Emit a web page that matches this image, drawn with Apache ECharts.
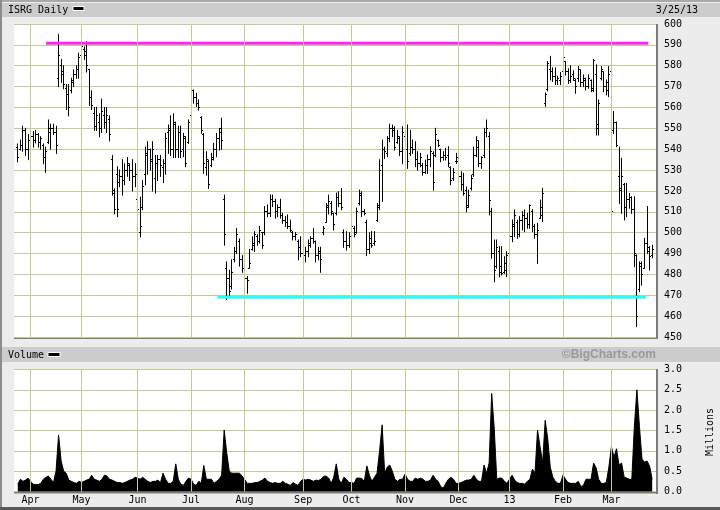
<!DOCTYPE html>
<html><head><meta charset="utf-8">
<script src="https://cdn.jsdelivr.net/npm/echarts@6/dist/echarts.min.js"></script>
<style>html,body{margin:0;padding:0;background:#ececec;}#c{width:720px;height:510px;}</style>
</head><body><div id="c"></div>
<script>
// ISRG daily, 250 trading days (Mar 26 2012 .. Mar 25 2013)
const openP = [
541,540,542,549,540,544,546,544,547,543,
542,536,543,548,550,548,574,580,576,569,
566,568,572,576,578,585,588,587,578,565,
557,551,553,550,556,553,554,535,520,528,
524,527,525,530,532,530,527,516,500,512,
528,537,540,535,526,533,535,531,533,548,
549,540,552,540,548,540,545,543,556,568,
565,562,555,547,531,534,532,536,540,545,
550,516,483,478,474,487,491,496,487,483,
478,483,492,495,498,496,500,500,510,509,
516,515,510,512,508,506,505,503,500,498,
496,493,490,489,491,494,497,496,489,490,
500,505,512,514,509,509,517,514,500,496,
494,498,502,500,514,518,510,505,492,495,
495,506,513,532,540,538,545,550,549,543,
545,539,546,540,538,541,540,535,533,532,
529,532,535,538,537,544,540,536,537,537,
531,526,534,534,527,523,520,513,521,528,
537,541,533,537,548,546,510,490,484,491,
484,481,482,490,498,503,505,499,506,508,
507,504,510,503,499,507,508,562,568.4,578,
577,575,573,573,577,582,577,573,576,573,
574,578,572,573,570,573,568,576,550,574,
577,570,572,577,549,553,527,521,523,512,
516,517,511,489,473,484,483,495,491,489];
const highP = [
542.5,544.4,551,550,547,548,548.5,549,547.5,546,
542.5,541,554,552,552,551,595,583,580,571,
571,574,578,580,586,590.7,589,591.5,578,568,
560,560,557,564,560,560,556,537,521,531.6,
530,535,533,536,533,535,533,517,517,525,
541,543.6,540,543.6,537,537,537,535,547.6,551.6,
556,557,553,551,551,547.6,546,554,570,568.4,
566.8,563.6,555.6,547.6,538.8,534.8,538,542.8,547.6,550,
554.8,518,486,482,487,493,502,497,489,484,
479,492,498,500.5,499,503,500,512.5,513.3,518,
518,516,513.3,516,509.3,507.7,508.5,506,500.5,500,
496.5,498,493,493,496.5,498,502,496,493,493,
503,514,518,515,509.3,519,519.6,521.2,501.3,500.5,
500,506,503,511.7,520.4,519.6,511,506,500,500.5,
500.5,514,535,544.4,541,546,552,551.6,550.8,549,
546,550.8,546,551.6,549,544.4,543.6,538.8,538,533.2,
534.8,537.2,541.2,538.8,550,544.4,540,538.8,540.4,541.2,
531.6,530.8,538,534,529.2,528.4,521.9,520.4,527.5,541,
546,544,536.4,550,554,548,511.7,496.5,496.5,493.3,
493.3,488.5,490.9,507.7,506.1,510.9,506,507.7,510.1,510.9,
509.3,513.3,511,504,504.5,515.6,521.2,567,582,584.5,
579,579,575,576.8,586,582,578.5,580,577.6,573.6,
579.6,578,575.6,574,575.6,573.2,583,580.4,563.6,579.6,
577,573.2,579.6,578,558,553,541,535.6,523.6,523.6,
518.8,517.2,517.2,489.3,486,486,497.3,512.5,493.3,494];
const lowP = [
534,539.6,539,537,535,538,541,543,541,540,
533,529,542.8,540,547,538,570,572,569,559,
556,567,570,574,574,576,583,577,561,559,
549,549,546,548,550,548,544,518,509,507.7,
522,518,523,527,525,520,522,498,498,511,
523,528,530,520,519,525,527,524,528,538,
537,536,536,536,536,536.4,531.6,542.8,555.6,562,
560.4,558.8,547.6,528.4,527.6,521.2,531.6,534.8,536.4,539.6,
540,494,468,470,473,486,490,484,481,476.5,
471,483,491.7,491,494,495,492.5,499,507.7,507.7,
512.5,507,507.7,507,504.5,503,502,500.5,496.5,496.5,
487,488.5,487,486,488.5,493,495,486,487,481,
499,505,509,508.5,501.3,508.5,512.5,511,493,491.7,
493,496.5,498,499.7,513.3,507.7,508.5,489,490,493,
494,505.3,511,515,535.6,536.4,543.6,546,539.6,542.8,
537,533,536.4,530.8,537,538,531.6,530,531.6,527.6,
528.4,528.4,531.6,520.4,536.4,541.2,534,534.8,534.8,531.6,
523,525,533.2,525.3,520.4,518,510,512,520.4,527,
536.4,531.6,530.8,536,546,508.5,487.7,476.5,483,478.9,
479.7,480.5,478.9,490,495.7,498.1,497.3,498,501.3,500.5,
502.1,502.1,500.5,497.3,485.3,506.9,505.3,560.5,568,573.2,
572.5,571,571,571,576,575.5,571.5,572,573,566.8,
572.4,570,570,568.4,569.2,567.6,567.6,546.8,546.8,573.2,
567.6,566,565.2,492.5,547.6,541.2,514,509.3,506.1,507.7,
511.7,509.3,483.7,455,471.7,474.9,483,490.1,482.1,488];
const closeP = [
536,542,549,540,544,546,544,547,543,545,
536,539,550,550,548,542,585,577,571,566,
560,573,576,578,584,589,585,580,565,561,
551,556,550,558,553,556,547,519,511,511,
527,525,530,533,530,527,528,511,503,522,
538,540,534,540,533,535,532,533,545,550,
540,553,540,548,539,546,533,553,568,565,
562,560,549,533,535,523,535,540,545,548,
544,499,478,472,481,491,499,487,483,478,
477,485,494,499,496,501,494,510,509,516,
515,510,512,508,506,505,503,501,498,499,
493,490,489,491,495,497,496,489,491,487,
502,513,515,510,504,517,514,512,496,494,
498,503,499,510,519,510,509,492,497,494,
496,512,530,540,538.8,545,550,550,541,546,
539,548,540,534,541,540,535,533,536,529,
532,535,539,524,547,541.6,536,537,536,533,
525,529,536,527,523,519,512,518,526,537,
544,533,536,548,550,515.6,490,482,493,481,
480.5,485.3,489,498,504,508,499,506,508,507,
504,512.8,503,499,501,512,518.8,566,581,577,
575,573,574,575,584,577,573,575,574,570,
578,572,574,570,574,569,582.7,552,562,578,
570,568,576,510,553,542,520,527,512,516,
517,511,490,460,485.3,480,495,493,488.5,492];
// volume, millions of shares
const volume = [
0.18,0.3,0.25,0.28,0.33,0.25,0.18,0.17,0.17,0.2,
0.3,0.35,0.38,0.3,0.22,0.5,1.39,0.75,0.5,0.45,
0.28,0.25,0.22,0.2,0.25,0.22,0.25,0.28,0.3,0.4,
0.3,0.28,0.25,0.3,0.4,0.38,0.3,0.28,0.25,0.22,
0.22,0.2,0.22,0.25,0.28,0.3,0.35,0.33,0.3,0.35,
0.3,0.25,0.22,0.25,0.25,0.28,0.22,0.45,0.3,0.2,
0.2,0.25,0.68,0.3,0.18,0.15,0.25,0.33,0.3,0.18,
0.15,0.25,0.2,0.64,0.3,0.3,0.3,0.2,0.25,0.3,
0.4,1.51,0.95,0.5,0.45,0.45,0.45,0.45,0.38,0.3,
0.2,0.2,0.2,0.22,0.22,0.25,0.28,0.33,0.25,0.22,
0.2,0.22,0.2,0.2,0.25,0.2,0.18,0.15,0.22,0.18,
0.15,0.25,0.3,0.28,0.3,0.28,0.25,0.28,0.27,0.3,
0.37,0.38,0.33,0.2,0.35,0.68,0.3,0.2,0.35,0.3,
0.22,0.22,0.2,0.33,0.33,0.32,0.25,0.63,0.4,0.25,
0.35,0.45,1.0,1.64,0.45,0.6,0.65,0.5,0.3,0.25,
0.3,0.3,0.43,0.3,0.25,0.25,0.33,0.3,0.33,0.3,
0.25,0.25,0.28,0.4,0.3,0.25,0.12,0.08,0.2,0.3,
0.35,0.3,0.2,0.2,0.22,0.25,0.28,0.28,0.3,0.4,
0.3,0.25,0.25,0.65,0.45,0.7,2.41,1.55,0.3,0.33,
0.33,0.25,0.2,0.3,0.4,0.28,0.22,0.2,0.2,0.18,
0.25,0.3,0.55,0.45,1.51,1.1,0.7,1.75,1.3,0.6,
0.35,0.25,0.2,0.2,0.4,0.3,0.22,0.2,0.2,0.2,
0.25,0.12,0.15,0.3,0.3,0.3,0.7,0.58,0.3,0.2,
0.2,0.22,0.6,1.1,0.85,1.05,0.65,0.7,0.35,0.33,
0.3,0.3,1.6,2.5,1.6,0.8,0.72,0.75,0.62,0.3];
// first trading day of each month (index into the arrays above) and its label
const monthStart = [5,25,47,68,89,112,131,152,173,193,214,233];
const monthLabel = ['Apr','May','Jun','Jul','Aug','Sep','Oct','Nov','Dec','13','Feb','Mar'];
// trend lines [startIndex, endIndex, level]
const resistance = [11.1, 247.5, 590.75];
const support = [78.3, 246.6, 469.1];

const N = openP.length;              // 250 bars
const SLOTS = N + 2;                 // one empty slot each side
const cats = [''];
for (let i = 0; i < N; i++) cats.push(String(i));
cats.push('');
const labelMap = {};
monthStart.forEach((m, j) => { labelMap[m + 1] = monthLabel[j]; });

const GRID = '#c8c890';
const MONO = '"DejaVu Sans Mono", "Liberation Mono", monospace';

const ohlc = openP.map((o, i) => [i + 1, o, highP[i], lowP[i], closeP[i]]);
const vol = volume.map((v, i) => [i + 1, v]);
const monthLines = monthStart.map(m => ({ xAxis: m + 1 }));

function markLines() {
  return { silent: true, symbol: ['none', 'none'], animation: false,
    label: { show: false }, emphasis: { disabled: true },
    lineStyle: { color: GRID, width: 1, type: 'solid' }, data: monthLines };
}

const chart = echarts.init(document.getElementById('c'), null, { renderer: 'canvas', width: 720, height: 510 });
chart.setOption({
  animation: false,
  backgroundColor: '#ececec',
  grid: [
    { left: 14, top: 24, width: 642, height: 313, show: true, backgroundColor: '#ffffff', borderWidth: 0 },
    { left: 14, top: 369.5, width: 642, height: 122, show: true, backgroundColor: '#ffffff', borderWidth: 0 }
  ],
  xAxis: [
    { type: 'value', gridIndex: 0, min: -0.5, max: SLOTS - 0.5, show: false },
    { type: 'value', gridIndex: 1, min: -0.5, max: SLOTS - 0.5, show: false },
    { type: 'category', gridIndex: 1, data: cats, boundaryGap: true, position: 'bottom',
      axisLine: { show: false }, axisTick: { show: false }, splitLine: { show: false },
      axisLabel: { interval: (idx) => labelMap[idx] !== undefined, formatter: (v, idx) => labelMap[idx] || '',
        color: '#000', fontFamily: MONO, fontSize: 10, margin: 3, lineHeight: 12, hideOverlap: false } }
  ],
  yAxis: [
    { type: 'value', gridIndex: 0, position: 'right', min: 450, max: 600, interval: 10,
      axisLine: { show: false }, axisTick: { show: false },
      splitLine: { lineStyle: { color: GRID, width: 1 } },
      axisLabel: { color: '#000', fontFamily: MONO, fontSize: 10, margin: 8 } },
    { type: 'value', gridIndex: 1, position: 'right', min: 0, max: 3, interval: 0.5,
      axisLine: { show: false }, axisTick: { show: false },
      splitLine: { lineStyle: { color: GRID, width: 1 } },
      axisLabel: { color: '#000', fontFamily: MONO, fontSize: 10, margin: 8, formatter: v => v.toFixed(1) } }
  ],
  series: [
    { type: 'line', xAxisIndex: 0, yAxisIndex: 0, data: [], z: 1, silent: true, markLine: markLines() },
    { type: 'line', xAxisIndex: 1, yAxisIndex: 1, data: [], z: 1, silent: true, markLine: markLines() },
    { type: 'custom', xAxisIndex: 0, yAxisIndex: 0, data: ohlc, z: 2, silent: true,
      encode: { x: 0, y: [1, 2, 3, 4] },
      renderItem: function (params, api) {
        const k = api.value(0);
        const pO = api.coord([k, api.value(1)]);
        const pH = api.coord([k, api.value(2)]);
        const pL = api.coord([k, api.value(3)]);
        const pC = api.coord([k, api.value(4)]);
        const x = Math.floor(pH[0]) + 0.5;
        const yo = Math.floor(pO[1]) + 0.5, yc = Math.floor(pC[1]) + 0.5;
        const st = { stroke: '#000', lineWidth: 1 };
        return { type: 'group', children: [
          { type: 'line', shape: { x1: x, y1: pH[1] - 0.5, x2: x, y2: pL[1] + 0.5 }, style: st },
          { type: 'line', shape: { x1: x - 1.5, y1: yo, x2: x, y2: yo }, style: st },
          { type: 'line', shape: { x1: x, y1: yc, x2: x + 1.5, y2: yc }, style: st }
        ] };
      } },
    { type: 'line', xAxisIndex: 0, yAxisIndex: 0, z: 3, silent: true, symbol: 'none',
      data: [[resistance[0] + 1, resistance[2]], [resistance[1] + 1, resistance[2]]],
      lineStyle: { color: '#ff22ff', width: 3 } },
    { type: 'line', xAxisIndex: 0, yAxisIndex: 0, z: 3, silent: true, symbol: 'none',
      data: [[support[0] + 1, support[2]], [support[1] + 1, support[2]]],
      lineStyle: { color: '#22ffff', width: 3 } },
    { type: 'line', xAxisIndex: 1, yAxisIndex: 1, z: 2, silent: true, symbol: 'none', data: vol,
      lineStyle: { color: '#000', width: 1 }, areaStyle: { color: '#000', opacity: 1 } }
  ],
  graphic: [
    { type: 'rect', shape: { x: 0, y: 0, width: 720, height: 2 }, style: { fill: '#a8a8a8' }, silent: true },
    { type: 'rect', shape: { x: 0, y: 0, width: 2, height: 510 }, style: { fill: '#8c8c8c' }, silent: true },
    { type: 'rect', shape: { x: 0, y: 507, width: 720, height: 3 }, style: { fill: '#5a5a5a' }, silent: true },
    { type: 'rect', shape: { x: 2, y: 3, width: 718, height: 14 }, style: { fill: '#cccccc' }, silent: true },
    { type: 'rect', shape: { x: 2, y: 347, width: 718, height: 15 }, style: { fill: '#cccccc' }, silent: true },
    { type: 'rect', shape: { x: 656, y: 24, width: 2, height: 315 }, style: { fill: '#7c7c7c' }, silent: true },
    { type: 'rect', shape: { x: 14, y: 337, width: 644, height: 2 }, style: { fill: '#7c7c7c' }, silent: true },
    { type: 'rect', shape: { x: 656, y: 369, width: 2, height: 125 }, style: { fill: '#7c7c7c' }, silent: true },
    { type: 'rect', shape: { x: 14, y: 491.5, width: 644, height: 2 }, style: { fill: '#7c7c7c' }, silent: true },
    { type: 'text', x: 8, y: 10, silent: true, style: { text: 'ISRG Daily', font: '10px ' + MONO, fill: '#000', align: 'left', verticalAlign: 'middle' } },
    { type: 'rect', shape: { x: 73, y: 6.5, width: 11, height: 4 }, style: { fill: '#000', stroke: '#fff', lineWidth: 1 }, silent: true },
    { type: 'text', x: 698, y: 10, silent: true, style: { text: '3/25/13', font: '10px ' + MONO, fill: '#000', align: 'right', verticalAlign: 'middle' } },
    { type: 'text', x: 8, y: 355, silent: true, style: { text: 'Volume', font: '10px ' + MONO, fill: '#000', align: 'left', verticalAlign: 'middle' } },
    { type: 'rect', shape: { x: 48, y: 352.5, width: 12, height: 4 }, style: { fill: '#000', stroke: '#fff', lineWidth: 1 }, silent: true },
    { type: 'text', x: 656, y: 355, silent: true, style: { text: '\u00A9BigCharts.com', font: 'bold 12px "Liberation Sans", Arial, sans-serif', fill: '#999999', align: 'right', verticalAlign: 'middle' } },
    { type: 'text', x: 710, y: 432, rotation: Math.PI / 2, silent: true, style: { text: 'Millions', font: '10px ' + MONO, fill: '#000', align: 'center', verticalAlign: 'middle' } }
  ]
});
</script>
</body></html>
